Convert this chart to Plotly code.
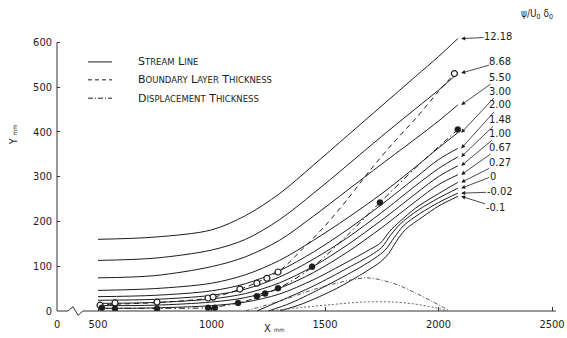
import plotly.graph_objects as go

# ---------------- data ----------------
psi_labels = ["12.18", "8.68", "5.50", "3.00", "2.00", "1.48", "1.00", "0.67",
              "0.27", "0", "-0.02", "-0.1"]

x_up = [500, 750, 1000, 1150, 1300, 1450, 1600, 1750, 1900, 2000, 2085]
y_1218 = [160, 165, 181, 213, 262, 326, 392, 458, 524, 568, 608]
y_868 = [113, 118, 136, 160, 204, 263, 326, 390, 452, 493, 531]
y_550 = [74, 79, 99, 121, 158, 212, 270, 328, 385, 424, 460]
y_300 = [46, 50, 62, 81, 113, 158, 208, 262, 322, 364, 398]
y_200 = [32, 35, 45, 61, 90, 132, 182, 238, 298, 338, 363]
y_148 = [24, 26, 35, 49, 76, 116, 164, 220, 280, 318, 344]
y_100 = [17, 19, 27, 39, 63, 100, 148, 203, 262, 300, 324]
y_067 = [12, 13, 20, 30, 51, 86, 132, 186, 245, 282, 304]

x_027 = [500, 750, 1000, 1150, 1300, 1450, 1600, 1700, 1745, 1785, 1830, 1900, 2000, 2085]
y_027 = [6, 7, 12, 20, 38, 70, 110, 138, 152, 178, 200, 230, 262, 287]
x_0 = [1200, 1300, 1450, 1600, 1700, 1750, 1790, 1835, 1910, 2000, 2085]
y_0 = [0, 22, 56, 96, 124, 142, 170, 196, 225, 252, 274]
x_m002 = [1250, 1350, 1500, 1650, 1720, 1765, 1805, 1845, 1920, 2000, 2085]
y_m002 = [0, 18, 55, 96, 118, 136, 164, 190, 218, 242, 263]
x_m01 = [1300, 1400, 1550, 1680, 1745, 1780, 1815, 1855, 1930, 2000, 2085]
y_m01 = [0, 16, 50, 88, 110, 128, 156, 182, 210, 234, 256]

# boundary layer thickness (dashed, open circles)
bl_x = [500, 800, 1000, 1150, 1300, 1400, 1500, 1600, 1700, 1800, 1900, 2000, 2070]
bl_y = [14, 20, 30, 53, 90, 138, 190, 250, 315, 375, 430, 490, 530]
bl_pts_x = [509, 575, 760, 985, 1007, 1125, 1200, 1244, 1293, 2070]
bl_pts_y = [13, 18, 20, 29, 31, 49, 62, 73, 87, 530]

# displacement thickness (dash-dot, filled circles)
dp_x = [500, 800, 1000, 1150, 1300, 1450, 1600, 1742, 1900, 2085]
dp_y = [6, 6, 8, 22, 52, 100, 170, 242, 320, 405]
dp_pts_x = [517, 575, 760, 985, 1015, 1117, 1200, 1236, 1293, 1443, 1742, 2085]
dp_pts_y = [7, 5, 5, 7, 7, 18, 33, 39, 51, 99, 242, 405]

# separated-region humps near the wall
hump1_x = [1150, 1300, 1450, 1550, 1685, 1800, 1900, 2000, 2050]
hump1_y = [0, 22, 48, 62, 74, 62, 40, 14, 0]
hump2_x = [1250, 1400, 1522, 1667, 1800, 1888, 1980, 2040]
hump2_y = [0, 8, 14, 20, 20, 16, 8, 0]

x_tick_vals = [320, 500, 1000, 1500, 2000, 2500]
x_tick_text = ["0", "500", "1000", "1500", "2000", "2500"]
y_tick_vals = [0, 100, 200, 300, 400, 500, 600]
y_tick_text = ["0", "100", "200", "300", "400", "500", "600"]

lines_x = [x_up] * 8 + [x_027, x_0, x_m002, x_m01]
lines_y = [y_1218, y_868, y_550, y_300, y_200, y_148, y_100, y_067,
           y_027, y_0, y_m002, y_m01]

# label placement (layout, data coordinates of label centre)
lab_pos = [(2262, 612), (2273, 556), (2273, 522), (2273, 491), (2273, 460),
           (2273, 428), (2273, 397), (2273, 366), (2273, 331), (2238, 301),
           (2269, 266), (2250, 232)]

INK = "#1c1c1c"
NUM_FONT = "DejaVu Sans Condensed, DejaVu Sans, sans-serif"
LEG_FONT = "DejaVu Sans, sans-serif"

fig = go.Figure()

for xs, ys in zip(lines_x, lines_y):
    fig.add_trace(go.Scatter(x=xs, y=ys, mode="lines",
                             line=dict(color=INK, width=1, shape="spline", smoothing=0.9),
                             hoverinfo="skip", showlegend=False))

fig.add_trace(go.Scatter(x=hump1_x, y=hump1_y, mode="lines",
                         line=dict(color="#444", width=0.9, dash="4px,2px,1px,2px",
                                   shape="spline", smoothing=0.8),
                         showlegend=False))
fig.add_trace(go.Scatter(x=hump2_x, y=hump2_y, mode="lines",
                         line=dict(color="#555", width=0.9, dash="2px,2px",
                                   shape="spline", smoothing=0.8),
                         showlegend=False))

fig.add_trace(go.Scatter(x=bl_x, y=bl_y, mode="lines",
                         line=dict(color=INK, width=1, dash="5px,4px", shape="spline", smoothing=0.8),
                         showlegend=False))
fig.add_trace(go.Scatter(x=dp_x, y=dp_y, mode="lines",
                         line=dict(color=INK, width=1, dash="6px,3px,1.5px,3px",
                                   shape="spline", smoothing=0.8),
                         showlegend=False))
fig.add_trace(go.Scatter(x=bl_pts_x, y=bl_pts_y, mode="markers",
                         marker=dict(symbol="circle", size=6, color="white",
                                     line=dict(color=INK, width=1.2)),
                         showlegend=False))
fig.add_trace(go.Scatter(x=dp_pts_x, y=dp_pts_y, mode="markers",
                         marker=dict(symbol="circle", size=6, color=INK,
                                     line=dict(color=INK, width=0.5)),
                         showlegend=False))

# streamline labels with leader arrows
for lab, (lx, ly), xs, ys in zip(psi_labels, lab_pos, lines_x, lines_y):
    fig.add_annotation(x=xs[-1] + 15, y=ys[-1], xref="x", yref="y",
                       ax=lx, ay=ly, axref="x", ayref="y",
                       text=lab, showarrow=True, arrowhead=2, arrowsize=1,
                       arrowwidth=0.8, arrowcolor=INK, borderpad=0,
                       font=dict(family=NUM_FONT, size=11, color=INK))

fig.add_annotation(x=0.962, y=1.038, xref="paper", yref="paper", showarrow=False,
                   xanchor="center", yanchor="middle",
                   text="ψ/U<sub>0</sub> δ<sub>0</sub>",
                   font=dict(family=NUM_FONT, size=10, color=INK))


def small_caps(s, small=8.5):
    out = []
    for w in s.split(" "):
        out.append(w[0] + "<span style='font-size:%spx'>%s</span>" % (small, w[1:].upper()))
    return " ".join(out)


legend_items = [("Stream Line", None, 556),
                ("Boundary Layer Thickness", "4px,3px", 516),
                ("Displacement Thickness", "5px,2px,1px,2px", 475)]
for name, dash, ly in legend_items:
    fig.add_shape(type="line", x0=456, x1=562, y0=ly, y1=ly, xref="x", yref="y",
                  line=dict(color=INK, width=1, dash=dash if dash else "solid"))
    fig.add_annotation(x=667, y=ly, xref="x", yref="y", showarrow=False,
                       xanchor="left", yanchor="middle", text=small_caps(name),
                       font=dict(family=LEG_FONT, size=11, color=INK))

# axis titles
fig.add_annotation(x=0.434, y=-0.062, xref="paper", yref="paper", showarrow=False,
                   xanchor="center", yanchor="middle",
                   text="X <span style='font-size:6px'>mm</span>",
                   font=dict(family=NUM_FONT, size=11, color=INK))
fig.add_annotation(x=-0.088, y=0.615, xref="paper", yref="paper", showarrow=False,
                   xanchor="center", yanchor="middle",
                   textangle=-90, text="Y <span style='font-size:6px'>mm</span>",
                   font=dict(family=NUM_FONT, size=11, color=INK))

# axis lines: y axis up to 600, x axis with a break
fig.add_shape(type="line", xref="paper", yref="y", x0=0, x1=0, y0=0, y1=600,
              line=dict(color="#333", width=1))
fig.add_shape(type="path", xref="x", yref="paper",
              path="M 319.4,0 L 368,0 L 390,0.015 L 412,-0.015 L 434,0 L 2517,0",
              line=dict(color="#333", width=1))

fig.update_xaxes(range=[319.4, 2517.6], tickvals=x_tick_vals, ticktext=x_tick_text,
                 ticks="inside", ticklen=4, tickcolor="#333", showgrid=False,
                 zeroline=False, showline=False, ticklabelstandoff=5, automargin=False,
                 tickfont=dict(family=NUM_FONT, size=11, color=INK))
fig.update_yaxes(range=[0, 638.4], tickvals=y_tick_vals, ticktext=y_tick_text,
                 ticks="inside", ticklen=3, tickcolor="#333", showgrid=False,
                 zeroline=False, showline=False, ticklabelstandoff=4, automargin=False,
                 tickfont=dict(family=NUM_FONT, size=11, color=INK))

fig.update_layout(width=567, height=338, margin=dict(l=57, r=11, t=25, b=27),
                  plot_bgcolor="white", paper_bgcolor="white", showlegend=False)

fig.write_html("out.html")
